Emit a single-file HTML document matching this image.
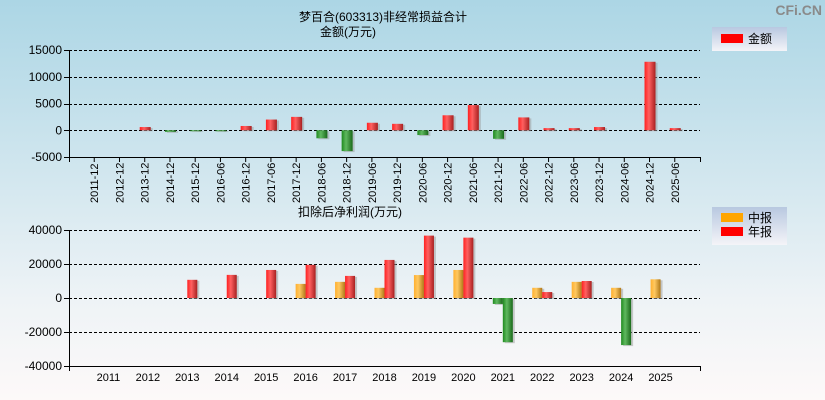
<!DOCTYPE html>
<html><head><meta charset="utf-8">
<style>
body{margin:0;width:825px;height:400px;overflow:hidden;font-family:"Liberation Sans","Noto Sans CJK SC",sans-serif;}
#bg{position:absolute;left:0;top:0;width:825px;height:400px;background:linear-gradient(#acd6e5 0%,#d3e7ef 45%,#eef3f6 75%,#fdf9f9 100%);}
svg{position:absolute;left:0;top:0}
</style></head><body>
<div id="bg"></div>
<svg width="825" height="400" id="svg">
<defs>
<linearGradient id="gr" x1="0" x2="1"><stop offset="0" stop-color="#ff2020"/><stop offset="0.4" stop-color="#ff6060"/><stop offset="1" stop-color="#a82020"/></linearGradient>
<linearGradient id="gg" x1="0" x2="1"><stop offset="0" stop-color="#1f8a1f"/><stop offset="0.4" stop-color="#5fb85f"/><stop offset="1" stop-color="#1a6a1a"/></linearGradient>
<linearGradient id="go" x1="0" x2="1"><stop offset="0" stop-color="#ffb030"/><stop offset="0.4" stop-color="#ffc860"/><stop offset="1" stop-color="#b07818"/></linearGradient>
<linearGradient id="lg" x1="0" y1="0" x2="0" y2="1"><stop offset="0" stop-color="#b8c8e0"/><stop offset="1" stop-color="#f4f4f8"/></linearGradient>
</defs>
<text x="383" y="21" font-size="12" text-anchor="middle">梦百合(603313)非经常损益合计</text>
<text x="348" y="36" font-size="12" text-anchor="middle">金额(万元)</text>
<text x="350" y="216" font-size="12" text-anchor="middle">扣除后净利润(万元)</text>
<text x="822" y="15" font-size="14" font-weight="bold" fill="#8a8a8a" text-anchor="end">CFi.CN</text>
<g>
<rect x="712" y="27" width="75" height="24" fill="url(#lg)"/>
<rect x="721" y="34" width="22" height="9" fill="#ff0000"/>
<text x="748" y="43" font-size="12">金额</text>
</g>
<g>
<rect x="712" y="207" width="75" height="38" fill="url(#lg)"/>
<rect x="721" y="213" width="22" height="9" fill="#ffa500"/>
<text x="748" y="222" font-size="12">中报</text>
<rect x="721" y="227" width="22" height="9" fill="#ff0000"/>
<text x="748" y="236" font-size="12">年报</text>
</g>
<g id="top"></g><g id="bot"></g>
</svg>
<script>
const topCats=["2011-12","2012-12","2013-12","2014-12","2015-12","2016-06","2016-12","2017-06","2017-12","2018-06","2018-12","2019-06","2019-12","2020-06","2020-12","2021-06","2021-12","2022-06","2022-12","2023-06","2023-12","2024-06","2024-12","2025-06"];
const topVals=[0,0,600,-300,-150,-150,800,2000,2500,-1500,-3900,1400,1200,-900,2800,4700,-1600,2400,400,400,600,0,12800,400];
const topTicks=[15000,10000,5000,0,-5000];
const botCats=["2011","2012","2013","2014","2015","2016","2017","2018","2019","2020","2021","2022","2023","2024","2025"];
const botHalf=[null,null,null,null,null,8300,9500,6000,13500,16500,-3500,6000,9500,6000,11000];
const botAnnual=[null,null,10700,13600,16500,19500,13000,22400,36700,35500,-26000,3500,10000,-27700,null];
const botTicks=[40000,20000,0,-20000,-40000];
const NS="http://www.w3.org/2000/svg";
function mk(p,t,a){const e=document.createElementNS(NS,t);for(const k in a)e.setAttribute(k,a[k]);p.appendChild(e);return e;}
function axis(g,x0,x1,yTop,yBot,vTop,vBot,ticks){
  const y=v=>yTop+(vTop-v)/(vTop-vBot)*(yBot-yTop);
  ticks.forEach(t=>{
    const yy=Math.round(y(t))+0.5;
    if(t!==vBot){const l=mk(g,'line',{x1:x0,x2:x1,y1:yy,y2:yy,stroke:'#000','stroke-dasharray':'3,2','stroke-width':1,'shape-rendering':'crispEdges'});
    
    }
    mk(g,'line',{x1:x0-5,x2:x0,y1:yy,y2:yy,stroke:'#000','shape-rendering':'crispEdges'});
    const tx=mk(g,'text',{x:x0-7,y:y(t)+4,'font-size':12,'text-anchor':'end'});tx.textContent=t;
    
    
  });
  mk(g,'line',{x1:x0+0.5,x2:x0+0.5,y1:yTop,y2:yBot+5,stroke:'#000','shape-rendering':'crispEdges'});
  mk(g,'line',{x1:x0,x2:x1,y1:yBot+0.5,y2:yBot+0.5,stroke:'#000','shape-rendering':'crispEdges'});
  mk(g,'line',{x1:x1+0.5,x2:x1+0.5,y1:yBot,y2:yBot+5,stroke:'#000','shape-rendering':'crispEdges'});
  return y;
}
function bar(g,x,w,v,y,fill,name){
  if(v===null||v===0)return;
  const y0=y(0),y1=y(v);
  mk(g,'rect',{x:x+2,y:Math.min(y0,y1)+1,width:w,height:Math.abs(y1-y0),fill:'#999',opacity:0.5});
  const r=mk(g,'rect',{x:x,y:Math.min(y0,y1),width:w,height:Math.max(1,Math.abs(y1-y0)),fill:v<0?'url(#gg)':fill});
  
  
}
const gt=document.getElementById('top');
const yt=axis(gt,69,700,50,157,15000,-5000,topTicks);
const st=631/(topCats.length+1);
topCats.forEach((c,i)=>{
  const cx=69+st*(i+1);
  mk(gt,'line',{x1:cx,x2:cx,y1:157,y2:162,stroke:'#000'});
  const t=mk(gt,'text',{x:cx+4,y:203,'font-size':11,transform:`rotate(-90 ${cx+4} 203)`});t.textContent=c;
  
  
  bar(gt,cx-5,11,topVals[i],yt,'url(#gr)','bar-'+c);
});
const gb=document.getElementById('bot');
const yb=axis(gb,69,700,230,366,40000,-40000,botTicks);
const sb=631/(botCats.length+1);
botCats.forEach((c,i)=>{
  const cx=69+sb*(i+1);
  const t=mk(gb,'text',{x:cx,y:381,'font-size':11,'text-anchor':'middle'});t.textContent=c;
  
  
  bar(gb,cx-10,10,botHalf[i],yb,'url(#go)','half-bar-'+c);
  bar(gb,cx,10,botAnnual[i],yb,'url(#gr)','annual-bar-'+c);
});
mk(gb,'line',{x1:69.5,x2:69.5,y1:366,y2:371,stroke:'#000'});
</script>
</body></html>
